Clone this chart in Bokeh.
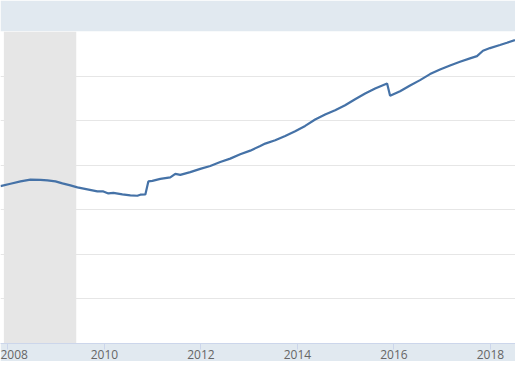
from bokeh.plotting import figure
from bokeh.models import Range1d, FixedTicker, BoxAnnotation
from bokeh.embed import file_html
from bokeh.resources import INLINE

# decimal-year dates and index values
dates = [2007.847, 2008.054, 2008.261, 2008.468, 2008.675, 2008.820, 2008.986,
         2009.130, 2009.296, 2009.441, 2009.648, 2009.855, 2009.979, 2010.083,
         2010.186, 2010.373, 2010.538, 2010.683, 2010.745, 2010.849, 2010.911,
         2010.994, 2011.159, 2011.366, 2011.470, 2011.573, 2011.780, 2011.987,
         2012.194, 2012.401, 2012.608, 2012.815, 2013.023, 2013.230, 2013.333,
         2013.540, 2013.747, 2013.954, 2014.161, 2014.368, 2014.575, 2014.782,
         2014.989, 2015.196, 2015.404, 2015.611, 2015.859, 2015.921, 2016.128,
         2016.335, 2016.542, 2016.749, 2016.956, 2017.163, 2017.370, 2017.577,
         2017.722, 2017.846, 2017.991, 2018.198, 2018.343, 2018.509]
values = [3.531, 3.585, 3.637, 3.675, 3.671, 3.660, 3.637,
          3.592, 3.547, 3.502, 3.457, 3.412, 3.412, 3.367,
          3.378, 3.345, 3.322, 3.315, 3.338, 3.345, 3.637,
          3.648, 3.693, 3.727, 3.806, 3.783, 3.846, 3.918,
          3.981, 4.071, 4.148, 4.244, 4.327, 4.431, 4.485,
          4.559, 4.656, 4.762, 4.881, 5.025, 5.137, 5.234,
          5.346, 5.481, 5.610, 5.722, 5.834, 5.556, 5.661,
          5.790, 5.909, 6.044, 6.149, 6.239, 6.320, 6.397,
          6.448, 6.568, 6.628, 6.696, 6.748, 6.808]

recession_start = 2007.917
recession_end = 2009.417
x_ticks = [2008, 2010, 2012, 2014, 2016, 2018]
y_grid = [1, 2, 3, 4, 5, 6]

p = figure(width=515, height=361, output_backend="svg", toolbar_location=None,
           x_range=Range1d(2007.847, 2018.52), y_range=Range1d(0, 7),
           min_border_left=0, min_border_right=0, min_border_top=31,
           min_border_bottom=0)

p.background_fill_color = "white"
p.border_fill_color = "#e1e9f0"
p.outline_line_color = None

p.add_layout(BoxAnnotation(left=recession_start, right=recession_end,
                           fill_color="#e6e6e6", fill_alpha=1.0,
                           line_color=None, level="underlay"))

p.line(dates, values, line_color="#4572a7", line_width=2.2)

p.yaxis.visible = False
p.xgrid.visible = False
p.ygrid.ticker = FixedTicker(ticks=y_grid)
p.ygrid.grid_line_color = "#e6e6e6"
p.ygrid.grid_line_width = 1

ax = p.xaxis[0]
ax.ticker = FixedTicker(ticks=x_ticks)
ax.major_label_overrides = {t: str(t) for t in x_ticks}
ax.axis_line_color = "#ccd6eb"
ax.major_tick_line_color = "#ccd6eb"
ax.minor_tick_line_color = None
ax.major_tick_in = 0
ax.major_tick_out = 6
ax.major_label_standoff = 0
ax.major_label_text_font = "Open Sans"
ax.major_label_text_font_size = "12px"
ax.major_label_text_color = "#666666"

open("out.html", "w").write(file_html(p, INLINE))
